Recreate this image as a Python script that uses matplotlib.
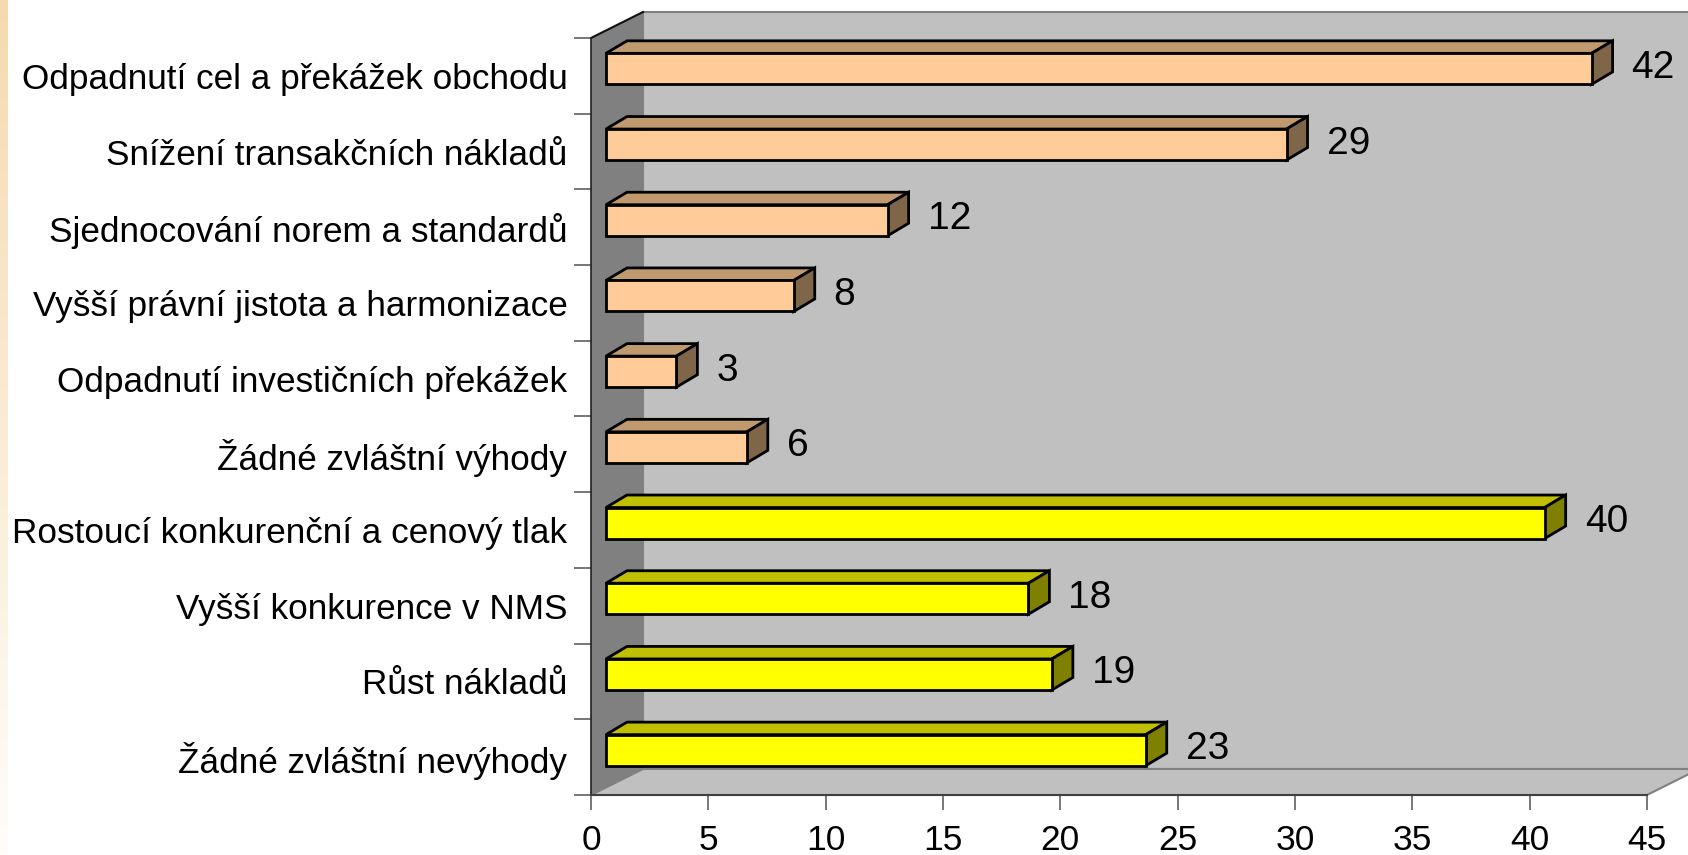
import numpy as np
import matplotlib
matplotlib.use("Agg")
import matplotlib.pyplot as plt
import matplotlib.transforms as mtransforms
from matplotlib.patches import Polygon
from matplotlib.ticker import FixedLocator, NullFormatter

plt.rcParams['font.family'] = ['Liberation Sans', 'DejaVu Sans']

# ---------------- data ----------------
categories = [
    "Odpadnutí cel a překážek obchodu",
    "Snížení transakčních nákladů",
    "Sjednocování norem a standardů",
    "Vyšší právní jistota a harmonizace",
    "Odpadnutí investičních překážek",
    "Žádné zvláštní výhody",
    "Rostoucí konkurenční a cenový tlak",
    "Vyšší konkurence v NMS",
    "Růst nákladů",
    "Žádné zvláštní nevýhody",
]
values = [42, 29, 12, 8, 3, 6, 40, 18, 19, 23]
groups = ["benefit"] * 6 + ["drawback"] * 4
x_ticks = [0, 5, 10, 15, 20, 25, 30, 35, 40, 45]

# ---------------- styling ----------------
face_colors = {
    "benefit": ("#FFCC99", "#C1996F", "#806649"),   # front, top, side
    "drawback": ("#FFFF00", "#C0C000", "#808000"),
}
W, H, DPI = 1688, 855, 100
WALL_D = (52, 26)        # depth of the 3D box, px
BAR_OFF = (15, 7)        # bar front-face offset, px
BAR_D = (21, 12.5)       # bar depth, px
BAR_H = 0.41

fig = plt.figure(figsize=(W / DPI, H / DPI), dpi=DPI)
fig.patch.set_facecolor("white")

# thin gradient strip on the left edge
gax = fig.add_axes([0, 0, 8 / W, 1])
grad = np.linspace(0, 1, 256).reshape(-1, 1)
top_c = np.array([245, 218, 176]) / 255
bot_c = np.array([255, 253, 250]) / 255
img = top_c[None, None, :] * (1 - grad[..., None]) + bot_c[None, None, :] * grad[..., None]
gax.imshow(img, aspect="auto", extent=[0, 1, 0, 1])
gax.axis("off")

x0, x1 = 591, 1647
y_top, y_bot = 38, 795
ax = fig.add_axes([x0 / W, 1 - y_bot / H, (x1 - x0) / W, (y_bot - y_top) / H])
ax.set_facecolor("none")
n = len(categories)
ax.set_xlim(x_ticks[0], x_ticks[-1])
ax.set_ylim(n - 0.5, -0.5)
ax.autoscale(False)

ident = mtransforms.IdentityTransform()


def disp(x, y, ox=0.0, oy=0.0):
    p = ax.transData.transform((x, y))
    return (p[0] + ox, p[1] + oy)


def poly(pts, fc, ec, lw, z):
    ax.add_patch(Polygon(pts, closed=True, facecolor=fc, edgecolor=ec, linewidth=lw,
                         transform=ident, clip_on=False, zorder=z, joinstyle="miter"))


xmin, xmax = x_ticks[0], x_ticks[-1]
ylo, yhi = -0.5, n - 0.5
dx, dy = WALL_D
# back wall
poly([disp(xmin, yhi, dx, dy), disp(xmax, yhi, dx, dy), disp(xmax, ylo, dx, dy), disp(xmin, ylo, dx, dy)],
     "#C0C0C0", "#808080", 1.5, 0.3)
# left wall
poly([disp(xmin, ylo), disp(xmin, ylo, dx, dy), disp(xmin, yhi, dx, dy), disp(xmin, yhi)],
     "#808080", "none", 0, 0.4)
# floor
poly([disp(xmin, yhi), disp(xmax, yhi), disp(xmax, yhi, dx, dy), disp(xmin, yhi, dx, dy)],
     "#C0C0C0", "#808080", 1.5, 0.5)
# top edge of left wall
ax.plot([disp(xmin, ylo)[0], disp(xmin, ylo, dx, dy)[0]],
        [disp(xmin, ylo)[1], disp(xmin, ylo, dx, dy)[1]],
        color="#101010", lw=1.5, transform=ident, clip_on=False, zorder=0.6)

# bars
ox, oy = BAR_OFF
bx, by = BAR_D
front_trans = mtransforms.offset_copy(ax.transData, fig=fig, x=ox, y=oy, units="dots")
for i, (v, g) in enumerate(zip(values, groups)):
    fc, tc, sc = face_colors[g]
    yt, yb = i - BAR_H / 2, i + BAR_H / 2
    # top face
    poly([disp(0, yt, ox, oy), disp(v, yt, ox, oy), disp(v, yt, ox + bx, oy + by), disp(0, yt, ox + bx, oy + by)],
         tc, "black", 2.0, 2)
    # side face
    poly([disp(v, yt, ox, oy), disp(v, yt, ox + bx, oy + by), disp(v, yb, ox + bx, oy + by), disp(v, yb, ox, oy)],
         sc, "black", 2.0, 2)
ax.barh(range(n), values, height=BAR_H, left=0,
        color=[face_colors[g][0] for g in groups], edgecolor="black", linewidth=2.0,
        transform=front_trans, zorder=2.1, clip_on=False)

# value labels
for i, v in enumerate(values):
    px, py = disp(v, i, ox + bx + 19, oy + 1)
    ax.text(px, py, str(v), transform=ident, fontsize=28, ha="left", va="center",
            color="black", zorder=3)

# axes styling
for s in ("top", "right"):
    ax.spines[s].set_visible(False)
ax.spines["left"].set_color("#202020")
ax.spines["bottom"].set_color("#404040")
ax.spines["left"].set_linewidth(1.2)
ax.spines["bottom"].set_linewidth(1.5)
ax.spines["left"].set_zorder(2.5)
ax.spines["bottom"].set_zorder(2.5)

ax.set_xticks(x_ticks)
ax.set_xticklabels([str(t) for t in x_ticks])
ax.tick_params(axis="x", direction="out", length=10.8, width=1.2, color="#606060",
               labelsize=25.5, pad=10)
ax.set_yticks(range(n))
ax.set_yticklabels(categories)
ax.yaxis.set_minor_locator(FixedLocator(np.arange(-0.5, n, 1.0)))
ax.yaxis.set_minor_formatter(NullFormatter())
ax.tick_params(axis="y", which="major", length=0, labelsize=25.3, pad=17)
ax.tick_params(axis="y", which="minor", direction="out", length=12.2, width=1.2, color="#606060")
for lbl in ax.get_yticklabels():
    lbl.set_y(lbl.get_position()[1])

fig.savefig("out.png", dpi=DPI, facecolor="white")
